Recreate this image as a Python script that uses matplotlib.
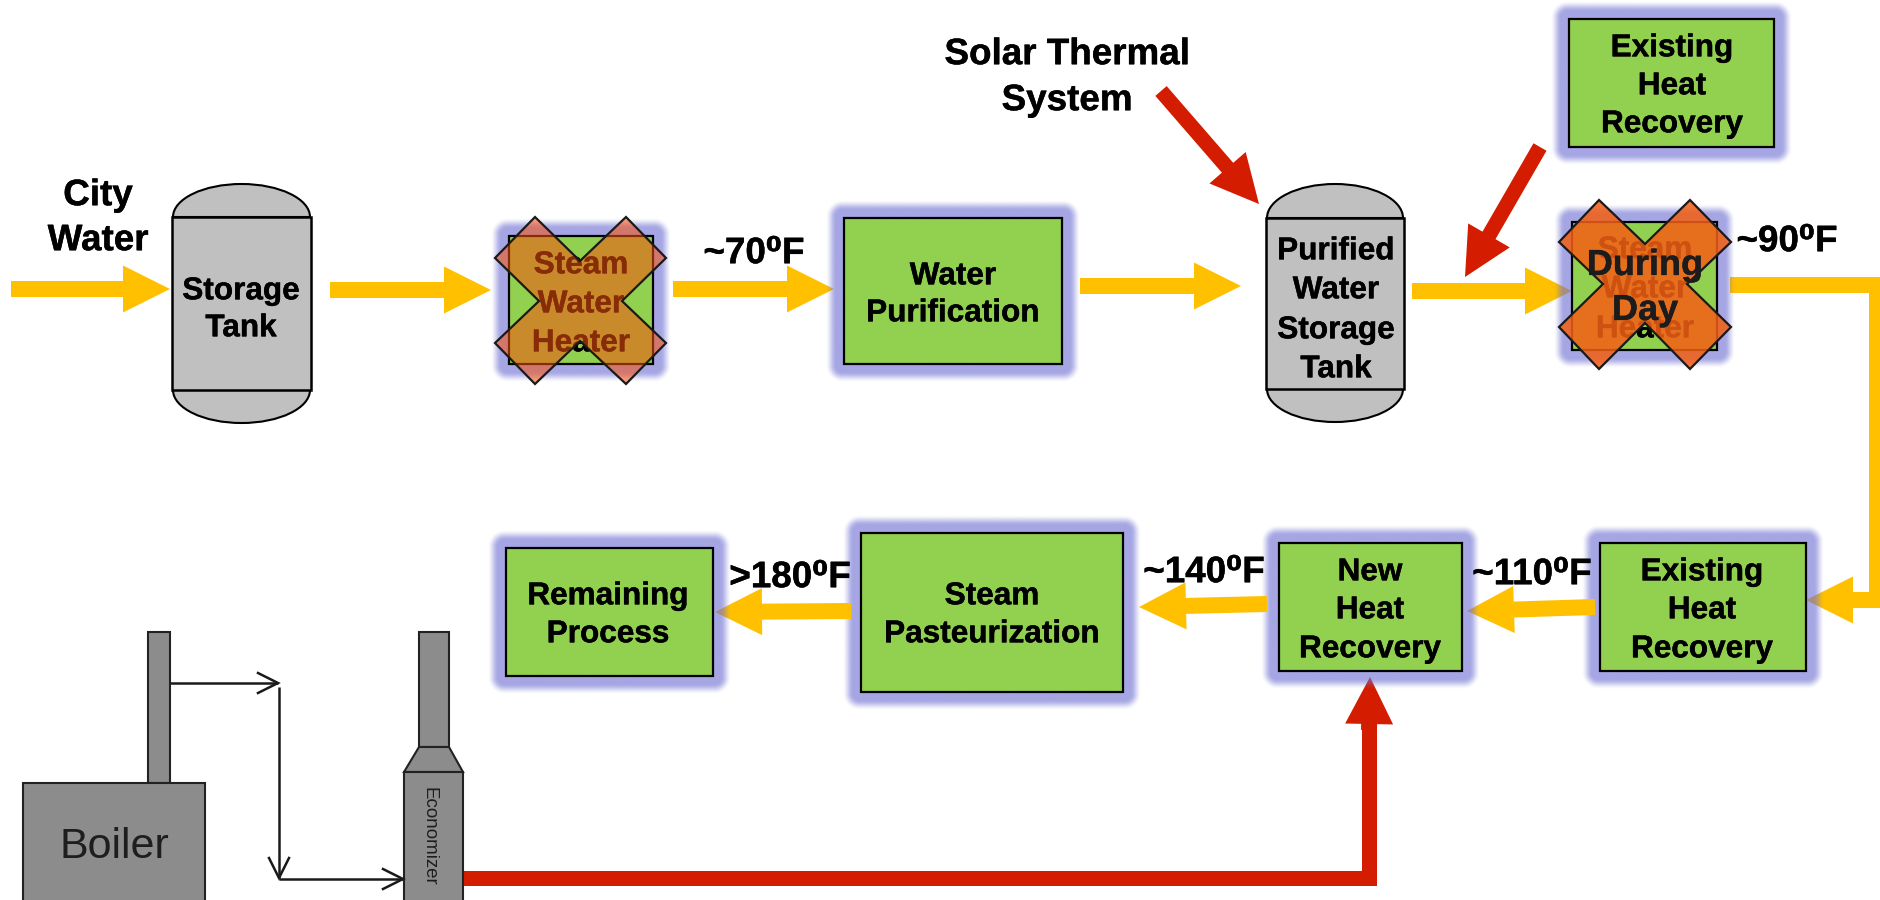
import numpy as np
import matplotlib
matplotlib.use("Agg")
import matplotlib.pyplot as plt
import matplotlib.patheffects as pe
from matplotlib.patches import Polygon, Rectangle, PathPatch
from matplotlib.path import Path

plt.rcParams['font.family'] = ['Liberation Sans', 'DejaVu Sans']

YELLOW = '#FFC000'
RED = '#D41C00'
GREEN = '#92D050'
TANK = '#C0C0C0'
GREY = '#8C8C8C'
INK = '#000000'

# green process boxes: x0, x1, y0, y1
green_boxes = [
    (509, 653, 236, 364),
    (844, 1062, 218, 364),
    (1569, 1774, 19, 147),
    (1572, 1717, 222, 350),
    (506, 713, 548, 676),
    (861, 1123, 533, 692),
    (1279, 1462, 543, 671),
    (1600, 1806, 543, 671),
]
# stacking of each box's glow against the arrows
glow_layers = [2.0, 2.0, 2.0, 2.0, 1.7, 1.5, 1.3, 1.1]

box_labels = [
    (['Water', 'Purification'], 953, [273, 310]),
    (['Existing', 'Heat', 'Recovery'], 1672, [45, 83, 121]),
    (['Remaining', 'Process'], 608, [593, 631]),
    (['Steam', 'Pasteurization'], 992, [593, 631]),
    (['New', 'Heat', 'Recovery'], 1370, [569, 607, 646]),
    (['Existing', 'Heat', 'Recovery'], 1702, [569, 607, 646]),
    (['Storage', 'Tank'], 241, [288, 325]),
    (['Purified', 'Water', 'Storage', 'Tank'], 1336, [248, 287, 327, 366]),
    (['Steam', 'Water', 'Heater'], 581, [262, 301, 340]),
    (['Steam', 'Water', 'Heater'], 1645, [247, 286, 326]),
]
big_labels = [
    (['City', 'Water'], 98, [192, 237]),
    (['Solar Thermal', 'System'], 1067, [51, 97]),
    (['~70\u2070F'], 754, [250]),
    (['~90\u2070F'], 1787, [238]),
    (['>180\u2070F'], 790, [574]),
    (['~140\u2070F'], 1204, [569]),
    (['~110\u2070F'], 1532, [571]),
]
# tanks: x0, x1, body top, body bottom, dome top, dome bottom
tanks = [
    (172, 311, 217, 390, 184, 423),
    (1266, 1404, 218, 389, 184, 422),
]
# yellow block arrows: start, tip
yellow_arrows = [
    ((11, 289), (170, 289)),
    ((330, 290), (491, 290)),
    ((673, 289), (834, 289)),
    ((1080, 286), (1241, 286)),
    ((1412, 291), (1572, 291)),
    ((1595, 607), (1467, 611)),
    ((1267, 604), (1139, 607)),
    ((851, 611), (715, 612)),
]
arrow_layers = [1.8, 1.8, 1.8, 1.8, 1.8, 1.2, 1.4, 1.6]
red_arrows = [
    ((1161, 91), (1259, 204)),
    ((1540, 147), (1465, 277)),
]
# crosses as vertices, in picture pixels
cross_a_x = [535, 580, 626, 666, 622, 666, 626, 580, 535, 495, 539, 495]
cross_a_y = [217, 261, 217, 258, 301, 343, 384, 341, 384, 343, 301, 258]
cross_b_x = [1599, 1645, 1690, 1731, 1687, 1731, 1690, 1645, 1599, 1559, 1603, 1559]
cross_b_y = [200, 244, 200, 242, 284, 327, 369, 323, 369, 327, 284, 242]

fig = plt.figure(figsize=(18.81, 9.0), dpi=100)
ax = fig.add_axes([0, 0, 1, 1])
ax.set_xlim(0, 1881)
ax.set_ylim(900, 0)
ax.axis('off')


def block_arrow(start, tip, color, shaft=16, head_w=47, head_l=47, z=1):
    s, t = np.array(start, float), np.array(tip, float)
    d = (t - s) / np.hypot(*(t - s))
    n = np.array([-d[1], d[0]])
    b = t - d * head_l
    pts = [s + n * shaft / 2, b + n * shaft / 2, b + n * head_w / 2, t,
           b - n * head_w / 2, b - n * shaft / 2, s - n * shaft / 2]
    ax.add_patch(Polygon(pts, closed=True, fc=color, ec='none', zorder=z))


def glow(x0, x1, y0, y1, z, extent=19, radius=17, fade=11):
    pad = extent + 2
    xs = np.arange(x0 - pad, x1 + pad + 1)
    ys = np.arange(y0 - pad, y1 + pad + 1)
    X, Y = np.meshgrid(xs, ys)
    cx, cy = (x0 + x1) / 2, (y0 + y1) / 2
    hx, hy = (x1 - x0) / 2 + extent - radius, (y1 - y0) / 2 + extent - radius
    qx = np.maximum(np.abs(X - cx) - hx, 0)
    qy = np.maximum(np.abs(Y - cy) - hy, 0)
    sd = np.hypot(qx, qy) - radius
    u = np.clip(-sd / fade, 0, 1)
    alpha = 0.62 * u * u * (3 - 2 * u)
    img = np.zeros(X.shape + (4,))
    img[..., 0] = 110 / 255
    img[..., 1] = 112 / 255
    img[..., 2] = 210 / 255
    img[..., 3] = alpha
    ax.imshow(img, extent=(xs[0], xs[-1], ys[-1], ys[0]), zorder=z,
              interpolation='bilinear', aspect='auto')


def text_lines(lines, x, ys, size, z=4, color=INK):
    cap = 0.358 * size / 0.72
    for s, y in zip(lines, ys):
        t = ax.text(x, y + cap, s, ha='center', va='baseline', fontsize=size,
                    fontweight='bold', color=color, zorder=z)
        t.set_path_effects([pe.withStroke(linewidth=0.3, foreground=color)])


def dome(x0, x1, base, apex):
    cx = (x0 + x1) / 2
    hw = (x1 - x0) / 2
    k = 0.5523
    h = apex - base
    return Path([(x0, base), (x0, base + k * h), (cx - k * hw, apex), (cx, apex),
                 (cx + k * hw, apex), (x1, base + k * h), (x1, base), (x0, base)],
                [Path.MOVETO, Path.CURVE4, Path.CURVE4, Path.CURVE4,
                 Path.CURVE4, Path.CURVE4, Path.CURVE4, Path.CLOSEPOLY])


def tank(x0, x1, yt, yb, dt, db):
    for p in (dome(x0 + 1, x1 - 1, yt, dt), dome(x0 + 1, x1 - 1, yb, db)):
        ax.add_patch(PathPatch(p, fc=TANK, ec=INK, lw=1.5, zorder=3))
    ax.add_patch(Rectangle((x0, yt), x1 - x0, yb - yt, fc=TANK, ec=INK, lw=1.8, zorder=3))


def open_arrow(start, tip, barb=20, spread=10):
    s, t = np.array(start, float), np.array(tip, float)
    d = (t - s) / np.hypot(*(t - s))
    n = np.array([-d[1], d[0]])
    ax.plot([s[0], t[0]], [s[1], t[1]], color='#1A1A1A', lw=1.8, zorder=3,
            solid_capstyle='butt')
    b = t - d * barb
    ax.plot([(b + n * spread)[0], t[0], (b - n * spread)[0]],
            [(b + n * spread)[1], t[1], (b - n * spread)[1]],
            color='#1A1A1A', lw=1.8, zorder=3, solid_joinstyle='miter')


for (s, t), z in zip(yellow_arrows, arrow_layers):
    block_arrow(s, t, YELLOW, z=z)

# yellow elbow pipe off the right edge, ending in an arrow into the box
elbow = Path([(1730, 285), (1877, 285), (1877, 600), (1890, 600)],
             [Path.MOVETO, Path.LINETO, Path.LINETO, Path.LINETO])
ax.add_patch(PathPatch(elbow, fc='none', ec=YELLOW, lw=16 * 0.72, zorder=1,
                       joinstyle='miter', capstyle='butt'))
block_arrow((1885, 600), (1806, 600), YELLOW, z=1)

# red arrows
for s, t in red_arrows:
    block_arrow(s, t, RED, shaft=15, head_w=48, head_l=48, z=2.5)
pipe = Path([(463, 878), (1369, 878), (1369, 720)],
            [Path.MOVETO, Path.LINETO, Path.LINETO])
ax.add_patch(PathPatch(pipe, fc='none', ec=RED, lw=15 * 0.72, zorder=1.2,
                       joinstyle='miter', capstyle='butt'))
block_arrow((1369, 730), (1370, 677), RED, shaft=16, head_w=48, head_l=47, z=1.2)

# glow and boxes
for b, z in zip(green_boxes, glow_layers):
    glow(*b, z)
for x0, x1, y0, y1 in green_boxes:
    ax.add_patch(Rectangle((x0, y0), x1 - x0, y1 - y0, fc=GREEN, ec=INK,
                           lw=1.6, zorder=3))
for t in tanks:
    tank(*t)

for lines, x, ys in box_labels:
    text_lines(lines, x, ys, 22.7)
for lines, x, ys in big_labels:
    text_lines(lines, x, ys, 26.5)

# the crosses lie over the box text
ax.add_patch(Polygon(np.column_stack([cross_a_x, cross_a_y]), closed=True,
                     fc=(248 / 255, 82 / 255, 13 / 255, 0.55), ec='#1A1A1A',
                     lw=1.6, zorder=5))
ax.add_patch(Polygon(np.column_stack([cross_b_x, cross_b_y]), closed=True,
                     fc=(243 / 255, 95 / 255, 21 / 255, 0.86), ec='#1A1A1A',
                     lw=1.6, zorder=5))
text_lines(['During', 'Day'], 1645, [262, 307], 26, z=6, color='#1C1C1C')

# boiler and economizer
ax.add_patch(Rectangle((148, 632), 22, 151, fc=GREY, ec='#222222', lw=1.5, zorder=3))
ax.add_patch(Rectangle((23, 783), 182, 130, fc=GREY, ec='#222222', lw=1.5, zorder=3))
ax.add_patch(Rectangle((419, 632), 30, 115, fc=GREY, ec='#222222', lw=1.5, zorder=3))
ax.add_patch(Polygon([(419, 747), (449, 747), (463, 772), (404, 772)], closed=True,
                     fc=GREY, ec='#222222', lw=1.5, zorder=3))
ax.add_patch(Rectangle((404, 772), 59, 140, fc=GREY, ec='#222222', lw=1.5, zorder=3))
ax.text(114, 847, 'Boiler', ha='center', va='center', fontsize=31,
        color='#1E1E1E', zorder=4)
ax.text(429, 836, 'Economizer', ha='center', va='center', rotation=270,
        fontsize=13.5, color='#1E1E1E', zorder=4)

open_arrow((170, 683), (278, 683))
open_arrow((279, 687), (279, 878))
open_arrow((279, 879), (403, 879))

fig.savefig('out.png', dpi=100, facecolor='white')
